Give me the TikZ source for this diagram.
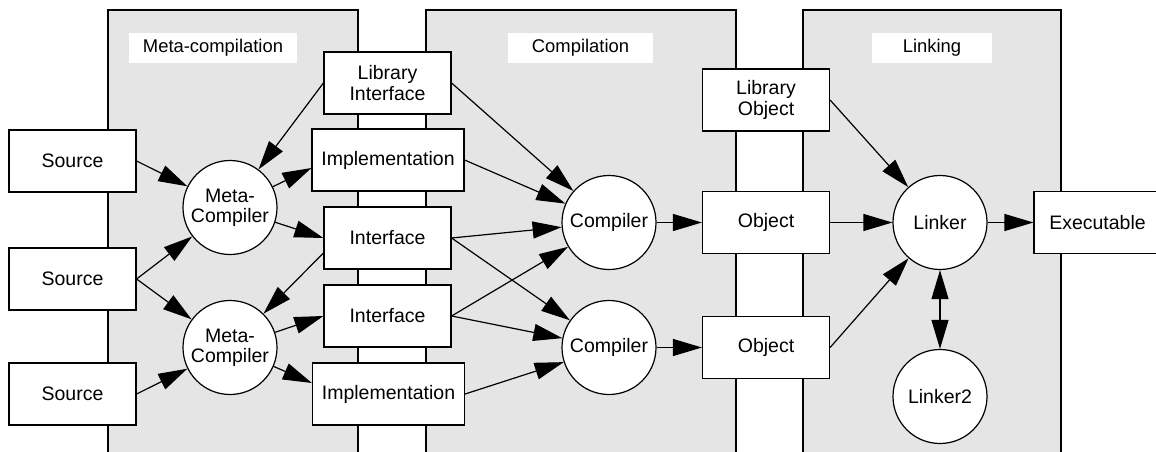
\documentclass[tikz,border=0pt]{standalone}
\usepackage{fontspec}
\setmainfont{Liberation Sans}
\usetikzlibrary{arrows.meta,calc}
\definecolor{panelgray}{HTML}{E5E5E5}
\begin{document}
\begin{tikzpicture}[x=1pt,y=-1pt,
  panel/.style={draw=black, fill=panelgray, line width=1.2pt},
  lbl/.style={fill=white, inner sep=0pt, font=\fontsize{18.4}{21}\selectfont},
  box/.style={draw=black, fill=white, line width=1.2pt, inner sep=0pt, minimum width=127pt, minimum height=62pt, align=center, font=\fontsize{19.5}{21}\selectfont},
  wbox/.style={box, minimum width=152pt},
  proc/.style={circle, draw=black, fill=white, line width=1.2pt, inner sep=0pt, minimum size=94pt, align=center, font=\fontsize{19.5}{20}\selectfont},
  arr/.style={-{Triangle[length=29pt,width=17pt]}, line width=1.2pt},
  darr/.style={{Triangle[length=29pt,width=17pt]}-{Triangle[length=29pt,width=17pt]}, line width=1.2pt}]
\useasboundingbox (0,0) rectangle (1156,452);
\clip (0,0) rectangle (1156,452);
% panels
\draw[panel] (108,10) rectangle (358,480);
\draw[panel] (426,10) rectangle (736,480);
\draw[panel] (803,10) rectangle (1061,480);
\node[lbl, minimum width=168pt, minimum height=30pt] (lmeta) at (213,48) {Meta-compilation};
\node[lbl, minimum width=145pt, minimum height=30pt] (lcomp) at (580.5,48) {Compilation};
\node[lbl, minimum width=120pt, minimum height=30pt] (llink) at (932,48) {Linking};
% nodes
\node[box] (src1) at (72.5,161) {Source};
\node[box] (src2) at (72.5,279) {Source};
\node[box] (src3) at (72.5,394) {Source};
\node[proc] (mc1) at (230,207.5) {Meta-\\Compiler};
\node[proc] (mc2) at (230,347.5) {Meta-\\Compiler};
\node[box] (libif) at (387.5,83) {Library\\Interface};
\node[wbox] (impl1) at (388,160) {Implementation};
\node[box] (if1) at (387.5,238) {Interface};
\node[box] (if2) at (387.5,316) {Interface};
\node[wbox] (impl2) at (388.5,394) {Implementation};
\node[proc] (comp1) at (609,222.5) {Compiler};
\node[proc] (comp2) at (609,347.5) {Compiler};
\node[box] (libobj) at (766,100) {Library\\Object};
\node[box] (obj1) at (766,222.5) {Object};
\node[box] (obj2) at (766,347.5) {Object};
\node[proc] (linker) at (940,222.5) {Linker};
\node[proc] (linker2) at (940,396.5) {Linker2};
\node[box] (exe) at (1097.5,222.5) {Executable};
% connectors
\draw[arr] (src1.east) -- (mc1);
\draw[arr] (src2.east) -- (mc1);
\draw[arr] (src2.east) -- (mc2);
\draw[arr] (src3.east) -- (mc2);
\draw[arr] (libif.west) -- (mc1);
\draw[arr] (mc1) -- ($(impl1.west)+(0,8)$);
\draw[arr] (mc1) -- (if1.west);
\draw[arr] ($(if1.west)+(0,15)$) -- (mc2);
\draw[arr] (mc2) -- (if2.west);
\draw[arr] (mc2) -- ($(impl2.west)+(0,-11)$);
\draw[arr] (libif.east) -- (comp1);
\draw[arr] (impl1.east) -- (comp1);
\draw[arr] (if1.east) -- (comp1);
\draw[arr] (if1.east) -- (comp2);
\draw[arr] (if2.east) -- (comp1);
\draw[arr] (if2.east) -- (comp2);
\draw[arr] (impl2.east) -- (comp2);
\draw[arr] (comp1) -- (obj1);
\draw[arr] (comp2) -- (obj2);
\draw[arr] (libobj.east) -- (linker);
\draw[arr] (obj1.east) -- (linker);
\draw[arr] (obj2.east) -- (linker);
\draw[arr] (linker) -- (exe);
\draw[darr] (linker) -- (linker2);
\end{tikzpicture}
\end{document}
